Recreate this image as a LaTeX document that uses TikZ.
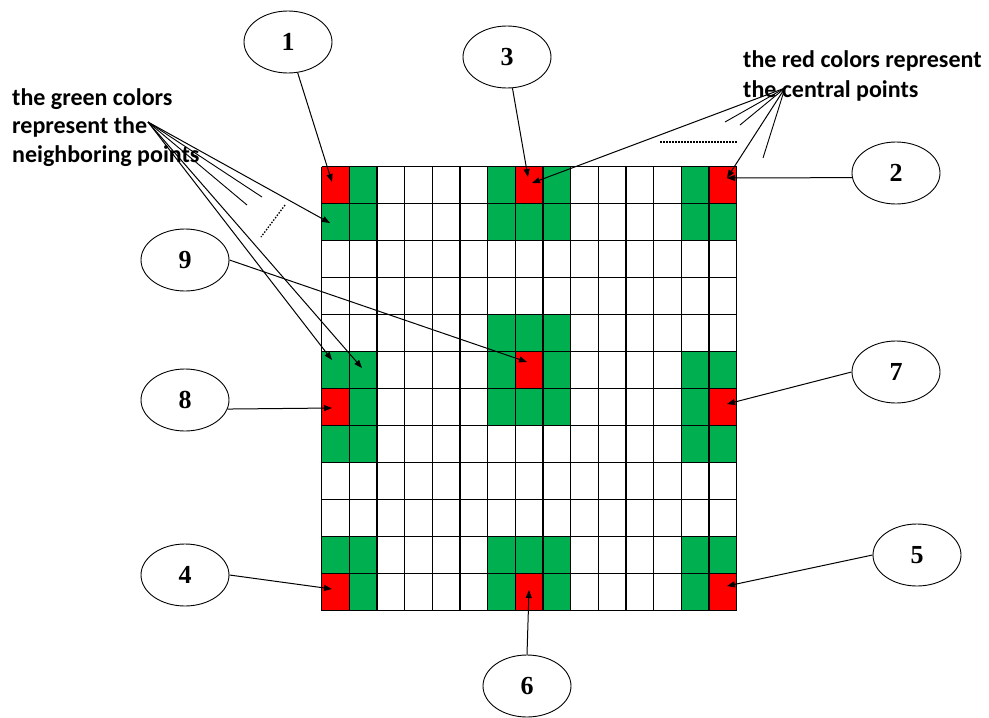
\documentclass[tikz,border=0pt]{standalone}
\usepackage{fontspec}
\newfontfamily\lblfont{Carlito}
\newfontfamily\numfont{Liberation Serif}
\usetikzlibrary{shapes.geometric,arrows.meta}
\definecolor{cellred}{RGB}{255,0,0}
\definecolor{cellgreen}{RGB}{0,176,80}
\begin{document}
\begin{tikzpicture}[x=1pt,y=-1pt,
  numlbl/.style={ellipse,draw,line width=0.9pt,minimum width=88pt,minimum height=62pt,inner sep=0pt,
    font=\numfont\fontsize{26}{30}\selectfont\bfseries},
  ptr/.style={line width=1pt,-{Triangle[length=8pt,width=6pt]}},
  fanline/.style={line width=0.9pt},
  dotline/.style={line width=1.3pt,dash pattern=on 1.5pt off 1.5pt},
  txt/.style={inner sep=0pt,align=left,anchor=north west},
  gridline/.style={line width=1.2pt}
]
\useasboundingbox (0,0) rectangle (989,718);

% grid
\begin{scope}[shift={(321.7,166.7)},x=27.67pt,y=-37pt]
  \foreach \c/\r in {0/0,7/0,14/0,7/5,0/6,14/6,0/11,7/11,14/11}
    \fill[cellred] (\c,\r) rectangle ++(1,1);
  \foreach \c/\r in {1/0,0/1,1/1, 6/0,8/0,6/1,7/1,8/1, 13/0,13/1,14/1,
                     6/4,7/4,8/4,6/5,8/5,6/6,7/6,8/6,
                     0/5,1/5,1/6,0/7,1/7, 13/5,14/5,13/6,13/7,14/7,
                     0/10,1/10,1/11, 6/10,7/10,8/10,6/11,8/11, 13/10,14/10,13/11}
    \fill[cellgreen] (\c,\r) rectangle ++(1,1);
  \foreach \i in {0,...,15} \draw[gridline] (\i,0) -- (\i,12);
  \foreach \j in {0,...,12} \draw[gridline] (0,\j) -- (15,\j);
\end{scope}

% texts
\node[txt,font=\lblfont\fontsize{24}{28.5}\selectfont\bfseries] (gtxt) at (12,88)
  {the green colors\\represent the\\neighboring points};
\node[txt,font=\lblfont\fontsize{24}{30}\selectfont\bfseries] (rtxt) at (743,50)
  {the red colors represent\\the central points};

% number ellipses
\node[numlbl] (n1) at (288,42) {1};
\node[numlbl] (n2) at (896,173) {2};
\node[numlbl] (n3) at (507,57) {3};
\node[numlbl] (n4) at (185,575) {4};
\node[numlbl] (n5) at (917,555) {5};
\node[numlbl] (n6) at (527,686) {6};
\node[numlbl] (n7) at (896,372) {7};
\node[numlbl] (n8) at (185,400) {8};
\node[numlbl] (n9) at (185,260) {9};

% arrow targets
\coordinate (t1) at (332,182);
\coordinate (t2) at (727,178);
\coordinate (t3) at (528,177);
\coordinate (t3b) at (532,183);
\coordinate (t4) at (332,589);
\coordinate (t5) at (727,586);
\coordinate (t6) at (529,590);
\coordinate (t7) at (727,404);
\coordinate (t8) at (332,408);
\coordinate (t9) at (527,362);
\coordinate (g1) at (330,223);
\coordinate (g2) at (332,360);
\coordinate (g3) at (362,368);

\draw[ptr] (n1) -- (t1);
\draw[ptr] (n2.186) -- (t2);
\draw[ptr] (n3) -- (t3);
\draw[ptr] (n4.east) -- (t4);
\draw[ptr] (n5.west) -- (t5);
\draw[ptr] (n6.north) -- (t6);
\draw[ptr] (n7.west) -- (t7);
\draw[ptr] (n8.-12) -- (t8);
\draw[ptr] (n9.east) -- (t9);

% green fan
\coordinate (ga) at (148,122);
\coordinate (gs1) at (262,197);
\coordinate (gs2) at (247,205);
\coordinate (gd1) at (285,205);
\coordinate (gd2) at (261,237);
\draw[ptr] (ga) -- (g1);
\draw[ptr] (ga) -- (g2);
\draw[ptr] (ga) -- (g3);
\draw[fanline] (ga) -- (gs1);
\draw[fanline] (ga) -- (gs2);
\draw[dotline] (gd1) -- (gd2);

% red fan
\coordinate (ra) at (785,88);
\coordinate (rs1) at (725,122);
\coordinate (rs2) at (740,125);
\coordinate (rs3) at (763,158);
\coordinate (rd1) at (660,142);
\coordinate (rd2) at (738,142);
\draw[ptr] (ra) -- (t3b);
\draw[ptr] (ra) -- (t2);
\draw[fanline] (ra) -- (rs1);
\draw[fanline] (ra) -- (rs2);
\draw[fanline] (ra) -- (rs3);
\draw[dotline] (rd1) -- (rd2);
\end{tikzpicture}
\end{document}
